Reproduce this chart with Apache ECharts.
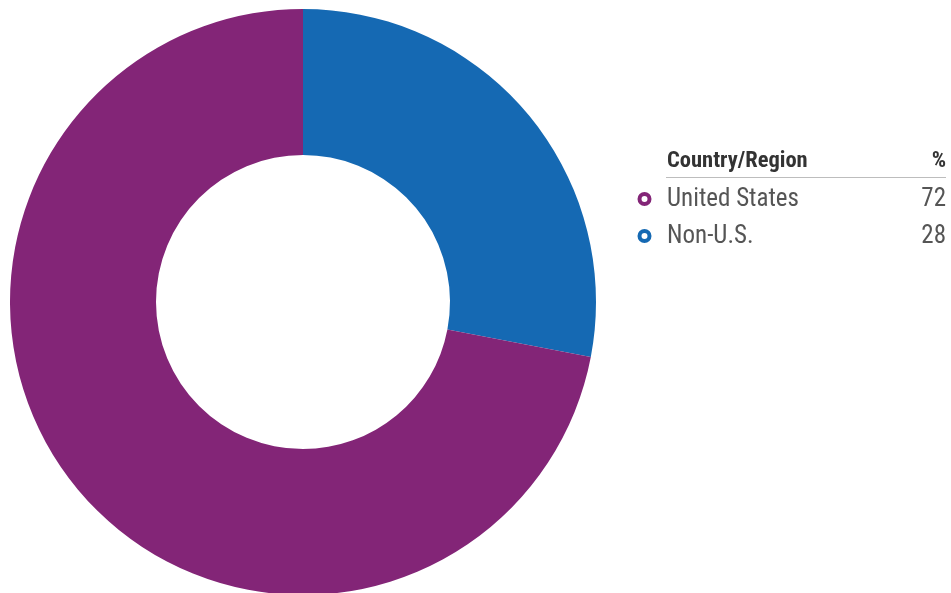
<!DOCTYPE html>
<html>
<head>
<meta charset="utf-8">
<script src="https://cdn.jsdelivr.net/npm/echarts@6/dist/echarts.min.js"></script>
<style>
  html, body { margin: 0; padding: 0; background: #fff; }
  #chart { width: 951px; height: 593px; }
</style>
</head>
<body>
<div id="chart"></div>
<script>
// Regional exposure breakdown
const regions = ['United States', 'Non-U.S.'];
const percents = [72, 28];
const colors = ['#832577', '#1569B3'];
const headerLabels = ['Country/Region', '%'];

const FONT = '"Roboto Condensed", "Roboto", sans-serif';

const chart = echarts.init(document.getElementById('chart'), null, { renderer: 'canvas' });

// Pie starts at 12 o'clock; draw Non-U.S. first clockwise so it sits on the upper right
const order = [1, 0];
const pieData = order.map(i => ({
  name: regions[i],
  value: percents[i],
  itemStyle: { color: colors[i] }
}));

// Legend table on the right
const tableLeft = 667, tableRight = 946;
const headerY = 161, ruleY = 177.5, rowY0 = 199.5, rowStep = 37;

function label(text, x, y, font, fill, align) {
  return {
    type: 'text', x: x, y: y,
    style: { text: text, font: font, fill: fill, align: align, verticalAlign: 'middle' }
  };
}

const graphic = [
  label(headerLabels[0], tableLeft, headerY, 'bold 22.5px ' + FONT, '#333333', 'left'),
  label(headerLabels[1], tableRight, headerY, 'bold 22.5px ' + FONT, '#333333', 'right'),
  { type: 'line', shape: { x1: tableLeft - 1, y1: ruleY, x2: tableRight, y2: ruleY },
    style: { stroke: '#bdbdbd', lineWidth: 1 } }
];
regions.forEach((name, i) => {
  const y = rowY0 + i * rowStep;
  graphic.push(
    { type: 'circle', shape: { cx: 644.5, cy: y - 0.5, r: 5 },
      style: { fill: '#fff', stroke: colors[i], lineWidth: 4 } },
    label(name, tableLeft, y, '25px ' + FONT, '#555555', 'left'),
    label(String(percents[i]), tableRight, y, '25px ' + FONT, '#555555', 'right')
  );
});

chart.setOption({
  animation: false,
  backgroundColor: '#ffffff',
  series: [{
    type: 'pie',
    center: [303, 302],
    radius: [147, 293],
    startAngle: 90,
    clockwise: true,
    label: { show: false },
    labelLine: { show: false },
    emphasis: { disabled: true },
    itemStyle: { borderWidth: 0 },
    data: pieData
  }],
  graphic: graphic
});
</script>
</body>
</html>
